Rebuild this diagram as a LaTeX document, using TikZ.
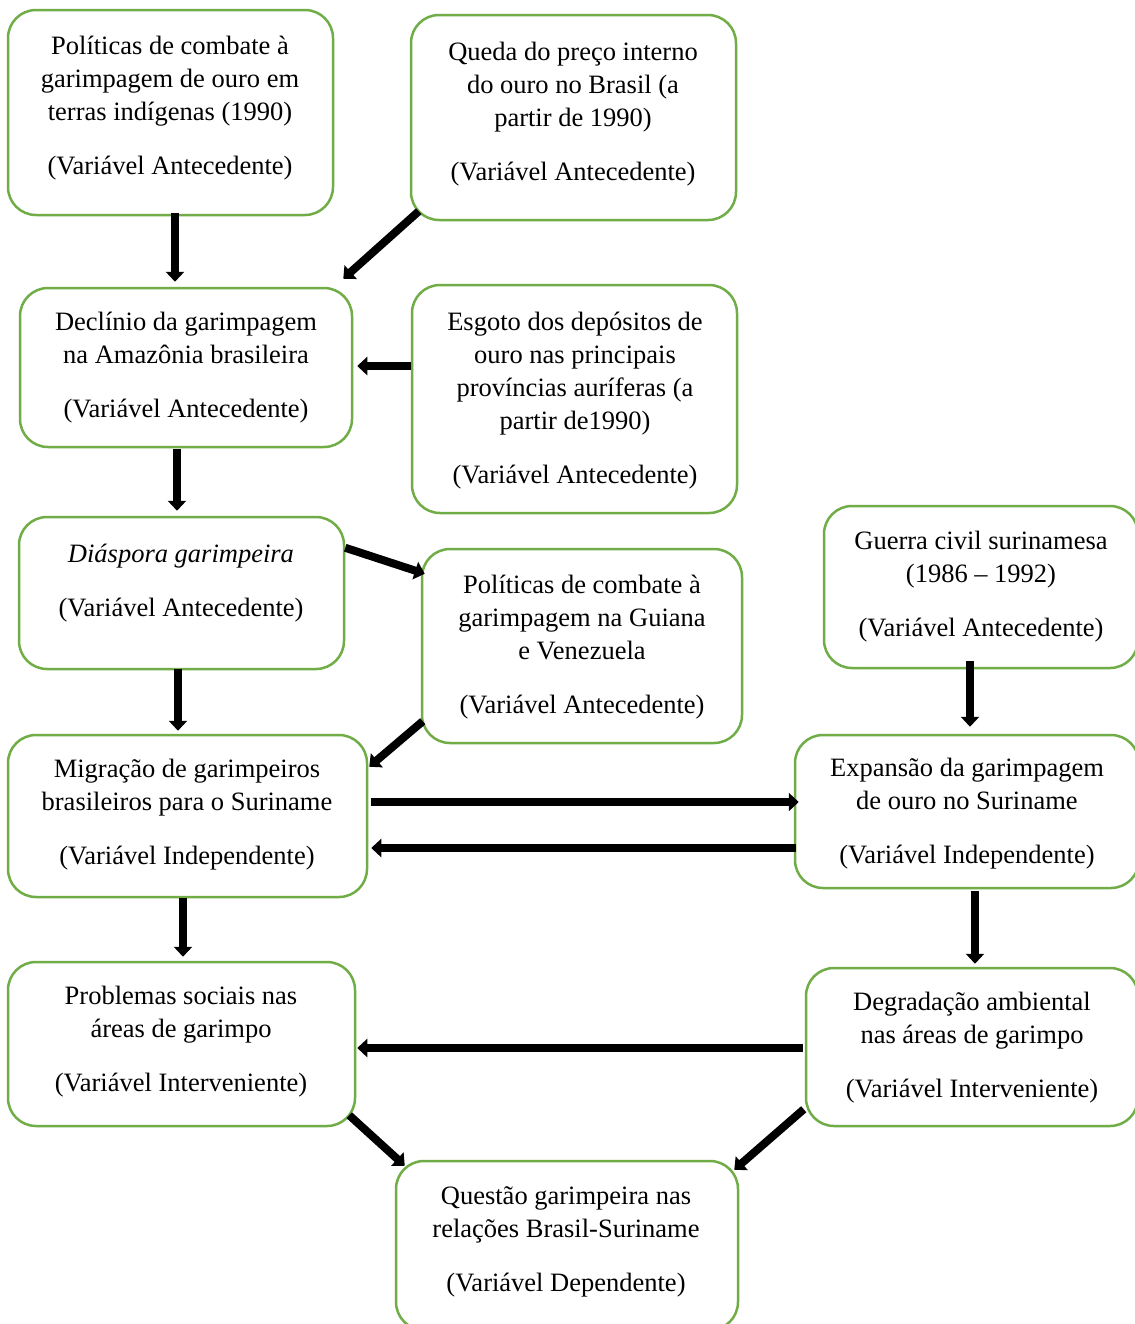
\documentclass[tikz,border=0pt]{standalone}
\usepackage{fontspec}
\setmainfont{Liberation Serif}
\usetikzlibrary{arrows.meta}
\definecolor{boxgreen}{HTML}{70AD47}
\begin{document}
\begin{tikzpicture}[x=0.5pt,y=-0.5pt,
  box/.style={draw=boxgreen, line width=1.25pt, rounded corners=14pt, inner sep=0pt},
  txt/.style={align=center, inner sep=0pt, font=\fontsize{13.25}{16.5}\selectfont},
  arr/.style={draw=black, line width=4pt, -{Triangle[width=9pt,length=5pt]}}]
\clip (0,0) rectangle (1135,1324);
\fill[white] (0,0) rectangle (1135,1324);
% boxes
\node[box, minimum width=325*0.5pt, minimum height=205*0.5pt] (b1) at (170.5,112.5) {};
\node[box, minimum width=325*0.5pt, minimum height=205*0.5pt] (b2) at (573.5,117.5) {};
\node[box, minimum width=332*0.5pt, minimum height=159*0.5pt] (b3) at (186,367.5) {};
\node[box, minimum width=325*0.5pt, minimum height=228*0.5pt] (b4) at (574.5,399) {};
\node[box, minimum width=325*0.5pt, minimum height=152*0.5pt] (b5) at (181.5,593) {};
\node[box, minimum width=320*0.5pt, minimum height=194*0.5pt] (b6) at (582,646) {};
\node[box, minimum width=314*0.5pt, minimum height=162*0.5pt] (b7) at (981,587) {};
\node[box, minimum width=359*0.5pt, minimum height=162*0.5pt] (b8) at (187.5,816) {};
\node[box, minimum width=344*0.5pt, minimum height=153*0.5pt] (b9) at (967,811.5) {};
\node[box, minimum width=347*0.5pt, minimum height=164*0.5pt] (b10) at (181.5,1044) {};
\node[box, minimum width=332*0.5pt, minimum height=158*0.5pt] (b11) at (972,1047) {};
\node[box, minimum width=342*0.5pt, minimum height=169*0.5pt] (b12) at (567,1245.5) {};
% texts
\node[txt] (t1) at (170,108) {Políticas de combate à\\garimpagem de ouro em\\terras indígenas (1990)\\[10.5pt](Variável Antecedente)};
\node[txt] (t2) at (573,114) {Queda do preço interno\\do ouro no Brasil (a\\partir de 1990)\\[10.5pt](Variável Antecedente)};
\node[txt] (t3) at (186,367.5) {Declínio da garimpagem\\na Amazônia brasileira\\[10.5pt](Variável Antecedente)};
\node[txt] (t4) at (575,401) {Esgoto dos depósitos de\\ouro nas principais\\províncias auríferas (a\\partir de1990)\\[10.5pt](Variável Antecedente)};
\node[txt] (t5) at (181,583) {\textit{Diáspora garimpeira}\\[10.5pt](Variável Antecedente)};
\node[txt] (t6) at (582,647) {Políticas de combate à\\garimpagem na Guiana\\e Venezuela\\[10.5pt](Variável Antecedente)};
\node[txt] (t7) at (981,586.5) {Guerra civil surinamesa\\(1986 – 1992)\\[10.5pt](Variável Antecedente)};
\node[txt] (t8) at (187,815) {Migração de garimpeiros\\brasileiros para o Suriname\\[10.5pt](Variável Independente)};
\node[txt] (t9) at (967,814) {Expansão da garimpagem\\de ouro no Suriname\\[10.5pt](Variável Independente)};
\node[txt] (t10) at (181,1042) {Problemas sociais nas\\áreas de garimpo\\[10.5pt](Variável Interveniente)};
\node[txt] (t11) at (972,1047.5) {Degradação ambiental\\nas áreas de garimpo\\[10.5pt](Variável Interveniente)};
\node[txt] (t12) at (566,1241.5) {Questão garimpeira nas\\relações Brasil-Suriname\\[10.5pt](Variável Dependente)};
% arrows
\draw[arr] ([shift={(4.5,-3)}]b1.south) -- ([shift={(-11,-5)}]b3.north);
\draw[arr] ([shift={(9,-10)}]b2.south west) -- ([shift={(-10,-8)}]b3.north east);
\draw[arr] ([shift={(0,-33)}]b4.west) -- ([shift={(4,-1.5)}]b3.east);
\draw[arr] ([shift={(-9,1)}]b3.south) -- ([shift={(-4.5,-5)}]b5.north);
\draw[arr] ([shift={(0,32)}]b5.north east) -- ([shift={(4,26)}]b6.north west);
\draw[arr] ([shift={(-3.5,-1)}]b5.south) -- ([shift={(-9.5,-3)}]b8.north);
\draw[arr] ([shift={(2,-23)}]b6.south west) -- ([shift={(1,33)}]b8.north east);
\draw[arr] ([shift={(-11,-8)}]b7.south) -- ([shift={(3,-7)}]b9.north);
\draw[arr] ([shift={(3,-14)}]b8.east) -- ([shift={(5,-9.5)}]b9.west);
\draw[arr] ([shift={(2,36.5)}]b9.west) -- ([shift={(3,32)}]b8.east);
\draw[arr] ([shift={(-4.5,0)}]b8.south) -- ([shift={(1.5,-4)}]b10.north);
\draw[arr] ([shift={(8,2)}]b9.south) -- ([shift={(3,-3)}]b11.north);
\draw[arr] ([shift={(-2,1)}]b11.west) -- ([shift={(1,4)}]b10.east);
\draw[arr] ([shift={(-7,-12)}]b10.south east) -- ([shift={(10,6)}]b12.north west);
\draw[arr] ([shift={(-1,-18)}]b11.south west) -- ([shift={(-5,10)}]b12.north east);
\end{tikzpicture}
\end{document}
